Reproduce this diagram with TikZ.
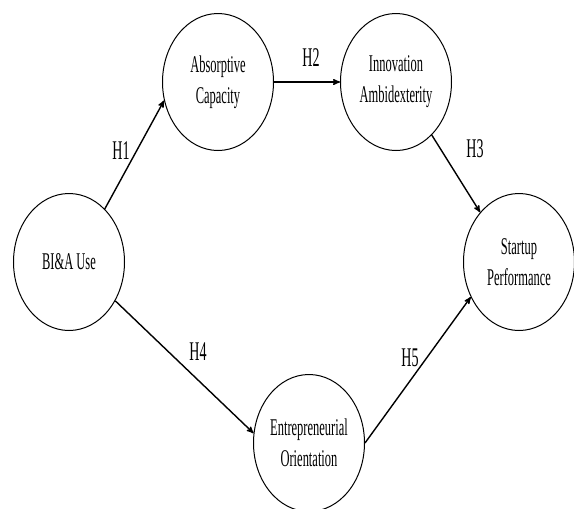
\documentclass[tikz,border=0pt]{standalone}
\usepackage{fontspec}
\newfontfamily\condfont{Liberation Serif}[FakeStretch=0.52]
\usetikzlibrary{arrows}
\usetikzlibrary{shapes.geometric}

\tikzset{construct/.style={draw, ellipse, line width=1pt, minimum width=111pt, minimum height=137pt, inner sep=0, align=center, font=\condfont\fontsize{24}{31}\selectfont}}
\tikzset{hyp/.style={font=\condfont\fontsize{27}{30}\selectfont}}

\begin{document}
\begin{tikzpicture} [x=1pt,y=-1pt]
\useasboundingbox (0,0) rectangle (574,509);

\node[construct] (bia) at (69,262) {BI\&A Use};
\node[construct] (ac) at (218,82) {Absorptive\\Capacity};
\node[construct] (ia) at (396,82) {Innovation\\Ambidexterity};
\node[construct] (sp) at (519,262) {Startup\\Performance};
\node[construct] (eo) at (309,443) {Entrepreneurial\\Orientation};

\draw[black, line width=1.4pt, ->, >=stealth'] (bia.56) -- (ac.199);
\draw[black, line width=1.4pt, ->, >=stealth'] (ac.east) -- (ia.west);
\draw[black, line width=1.4pt, ->, >=stealth'] (ia.304) -- (sp.128);
\draw[black, line width=1.4pt, ->, >=stealth'] (bia.320) -- (eo.170);
\draw[black, line width=1.4pt, ->, >=stealth'] (eo.0) -- (sp.216);

\node[hyp] (h1) at (121,151) {H1};
\node[hyp] (h2) at (311,58) {H2};
\node[hyp] (h3) at (475,149) {H3};
\node[hyp] (h4) at (198,352) {H4};
\node[hyp] (h5) at (410,358) {H5};
\end{tikzpicture}
\end{document}
